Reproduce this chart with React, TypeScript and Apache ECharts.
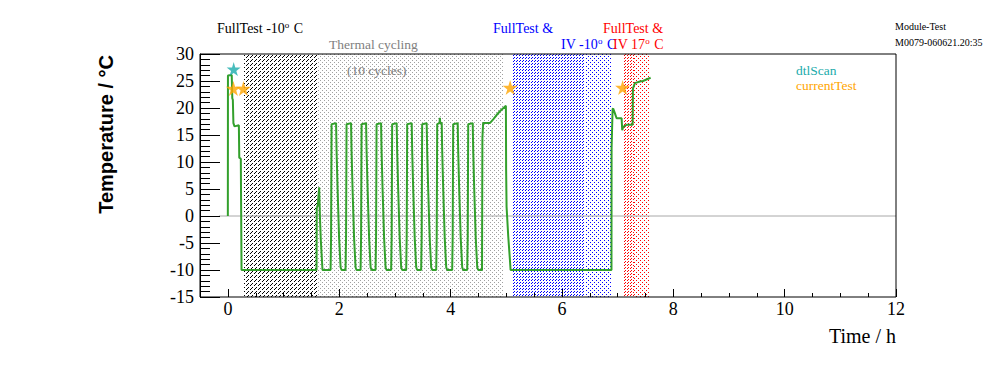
import React, { useEffect, useRef } from 'react';
import * as echarts from 'echarts';

// Temperature trace (Time / h, Temperature / °C)
const timeH = [
  0, 0.002, 0.07, 0.08, 0.09, 0.1, 0.12, 0.198, 0.205, 0.233, 0.238, 0.246,
  1.593, 1.597, 1.615, 1.64, 1.655, 1.67, 1.7,
  1.845, 1.854, 1.863, 1.944, 1.953, 1.971, 1.998, 2.025, 2.043,
  2.114, 2.123, 2.132, 2.213, 2.222, 2.24, 2.267, 2.294, 2.312,
  2.384, 2.393, 2.402, 2.483, 2.492, 2.51, 2.537, 2.564, 2.582,
  2.653, 2.662, 2.671, 2.752, 2.761, 2.779, 2.806, 2.833, 2.851,
  2.933, 2.942, 2.951, 3.032, 3.041, 3.059, 3.086, 3.113, 3.131,
  3.203, 3.212, 3.221, 3.302, 3.311, 3.329, 3.356, 3.383, 3.401,
  3.472, 3.481, 3.49, 3.571, 3.58, 3.598, 3.625, 3.652, 3.67,
  3.742, 3.751, 3.76, 3.802, 3.808, 3.815, 3.841, 3.85, 3.868, 3.895, 3.922, 3.94,
  4.029, 4.038, 4.047, 4.128, 4.137, 4.155, 4.182, 4.209, 4.227,
  4.299, 4.308, 4.317, 4.398, 4.407, 4.425, 4.452, 4.479, 4.497,
  4.565, 4.572, 4.585, 4.706, 4.766, 4.827, 4.886, 4.994, 4.998, 5.006, 5.036, 5.066, 5.078,
  6.89, 6.892, 6.91, 6.921, 6.952, 6.982, 7.072, 7.083, 7.1, 7.162, 7.27, 7.275, 7.311, 7.401, 7.455, 7.593,
];
const tempC = [
  0, 26, 26.1, 21.8, 21.5, 17.2, 16.6, 16.8, 10.8, 10.6, 2.6, -10,
  -10, 1.5, 2, 5.3, -0.5, -4.5, -10,
  -10, -4, 17, 17.2, 12, 5, -4, -9.5, -10,
  -10, -4, 17, 17.2, 12, 5, -4, -9.5, -10,
  -10, -4, 17, 17.2, 12, 5, -4, -9.5, -10,
  -10, -4, 17, 17.2, 12, 5, -4, -9.5, -10,
  -10, -4, 17, 17.2, 12, 5, -4, -9.5, -10,
  -10, -4, 17, 17.2, 12, 5, -4, -9.5, -10,
  -10, -4, 17, 17.2, 12, 5, -4, -9.5, -10,
  -10, -4, 17, 17.2, 18.2, 17.2, 17.2, 12, 5, -4, -9.5, -10,
  -10, -4, 17, 17.2, 12, 5, -4, -9.5, -10,
  -10, -4, 17, 17.2, 12, 5, -4, -9.5, -10,
  -10, 14.5, 17.2, 17.2, 17.9, 18.7, 19.4, 20.4, 8.5, 1.7, -3.8, -8.1, -10,
  -10, 12.6, 19.8, 19.9, 19.0, 18.1, 18.1, 15.9, 16.5, 16.9, 16.9, 23.6, 24.6, 24.9, 25.0, 25.6,
];

// Marker points
const dtlScanT = [0.105];
const dtlScanV = [27.2];
const currentTestT = [0.1, 0.28, 5.07, 7.09];
const currentTestV = [23.6, 23.6, 23.8, 23.8];

// Zero reference line
const zeroT = [-0.16, 12];
const zeroV = [0, 0];

// Shaded test phases (hours)
const regionStart = [0.295, 1.6, 5.12, 6.41, 7.11, 7.3];
const regionEnd = [1.6, 4.94, 6.41, 6.88, 7.3, 7.56];
const regionKind = ['blackHatch', 'grayDots', 'blueHatch', 'blueDots', 'redHatch', 'redDots'];

// Axis ranges
const xMin = -0.5;
const xMax = 12;
const yMin = -15;
const yMax = 30;

const SERIF = 'Liberation Serif';
const STAR = 'path://M50,0 L61,35 L98,35 L68,57 L79,91 L50,70 L21,91 L32,57 L2,35 L39,35 Z';

// Fill styles: period P, and for each pixel row (mod P) the column (mod P) of its dot
const FILLS: Record<string, { P: number; rows: (number | null)[]; color: string }> = {
  blackHatch: { P: 4, rows: [3, 2, null, 0], color: '#000000' },
  grayDots: { P: 4, rows: [0, null, 2, null], color: '#a0a0a0' },
  blueHatch: { P: 3, rows: [1, 0, null], color: '#0000ff' },
  blueDots: { P: 4, rows: [0, null, 2, null], color: '#0000ff' },
  redHatch: { P: 3, rows: [1, 0, null], color: '#ff0000' },
  redDots: { P: 4, rows: [0, null, 2, null], color: '#ff0000' },
};

function txt(x: number, y: number, text: string, size: number, color: string, extra: any = {}) {
  return {
    type: 'text',
    x,
    y,
    silent: true,
    z: 20,
    style: {
      text,
      fill: color,
      fontSize: size,
      fontFamily: SERIF,
      align: 'left',
      verticalAlign: 'middle',
      ...extra,
    },
  };
}

const supRich = {
  s: { fontSize: 9, fontFamily: SERIF, verticalAlign: 'bottom', padding: [0, 1, 7, 0] },
};

export default function App() {
  const ref = useRef<HTMLDivElement>(null);

  useEffect(() => {
    if (!ref.current) return;
    const chart = echarts.init(ref.current, undefined, { renderer: 'svg' });

    const option: any = {
      animation: false,
      grid: [
        { left: 200, top: 54, width: 696, height: 243, show: true, borderColor: '#000', borderWidth: 1, backgroundColor: 'transparent', z: 10 },
        { left: 228, top: 54, width: 668, height: 243 },
      ],
      xAxis: [
        { gridIndex: 0, type: 'value', min: xMin, max: xMax, show: false },
        {
          gridIndex: 1, type: 'value', min: 0, max: xMax, interval: 2, z: 10, position: 'bottom',
          axisLine: { show: false, onZero: false },
          axisTick: { inside: true, length: 8, lineStyle: { color: '#000' } },
          minorTick: { show: true, splitNumber: 4, length: 4, lineStyle: { color: '#000' } },
          splitLine: { show: false },
          minorSplitLine: { show: false },
          axisLabel: { fontFamily: SERIF, fontSize: 18, color: '#000', margin: 3 },
        },
      ],
      yAxis: [
        {
          gridIndex: 0, type: 'value', min: yMin, max: yMax, interval: 5, z: 10,
          axisLine: { show: true, onZero: false, lineStyle: { color: '#000' } },
          axisTick: { inside: true, length: 20, lineStyle: { color: '#000' } },
          minorTick: { show: true, splitNumber: 5, length: 10, lineStyle: { color: '#000' } },
          splitLine: { show: false },
          minorSplitLine: { show: false },
          axisLabel: { fontFamily: SERIF, fontSize: 18, color: '#000', margin: 6, padding: [5, 0, 0, 0] },
        },
        { gridIndex: 1, type: 'value', min: yMin, max: yMax, show: false },
      ],
      series: [
        {
          type: 'custom',
          xAxisIndex: 0,
          yAxisIndex: 0,
          silent: true,
          z: 1,
          data: regionStart.map((s, i) => [s, regionEnd[i], i]),
          renderItem: (_params: any, api: any) => {
            const fill = FILLS[regionKind[api.value(2)]];
            const P = fill.P;
            const p0 = api.coord([api.value(0), yMax]);
            const p1 = api.coord([api.value(1), yMin]);
            const xa = Math.round(p0[0]);
            const xb = Math.round(p1[0]);
            const ya = Math.round(p0[1]);
            const yb = Math.round(p1[1]);
            const children: any[] = [];
            for (let y = ya; y < yb; y++) {
              const col = fill.rows[((y % P) + P) % P];
              if (col == null) continue;
              const shift = (((col - xa) % P) + P) % P;
              children.push({
                type: 'line',
                shape: { x1: xa, y1: y + 0.5, x2: xb, y2: y + 0.5 },
                style: {
                  stroke: fill.color,
                  lineWidth: 1,
                  lineDash: [1, P - 1],
                  lineDashOffset: (P - shift) % P,
                },
              });
            }
            return { type: 'group', children };
          },
        },
        {
          type: 'line',
          xAxisIndex: 0,
          yAxisIndex: 0,
          z: 3,
          silent: true,
          symbol: 'none',
          data: zeroT.map((t, i) => [t, zeroV[i]]),
          lineStyle: { color: '#a8a8a8', width: 1 },
        },
        {
          type: 'line',
          xAxisIndex: 0,
          yAxisIndex: 0,
          z: 4,
          silent: true,
          symbol: 'none',
          data: timeH.map((t, i) => [t, tempC[i]]),
          lineStyle: { color: '#33a02c', width: 2 },
        },
        {
          type: 'scatter',
          xAxisIndex: 0,
          yAxisIndex: 0,
          z: 12,
          symbol: STAR,
          symbolSize: 15,
          data: currentTestT.map((t, i) => [t, currentTestV[i]]),
          itemStyle: { color: '#ffa500' },
        },
        {
          type: 'scatter',
          xAxisIndex: 0,
          yAxisIndex: 0,
          z: 13,
          symbol: STAR,
          symbolSize: 14,
          data: dtlScanT.map((t, i) => [t, dtlScanV[i]]),
          itemStyle: { color: '#1aabab' },
        },
      ],
      graphic: [
        txt(217, 28, 'FullTest -10{s|o} C', 14, '#000', { rich: supRich }),
        txt(329, 44, 'Thermal cycling', 13.5, '#808080'),
        txt(347, 70, '(10 cycles)', 13.5, '#808080'),
        txt(493, 28, 'FullTest &', 14, '#0000ff'),
        txt(561, 44, 'IV -10{s|o} C', 14, '#0000ff', { rich: supRich }),
        txt(603, 28, 'FullTest &', 14, '#ff0000'),
        txt(613, 44, 'IV 17{s|o} C', 14, '#ff0000', { rich: supRich }),
        txt(895, 26, 'Module-Test', 10, '#000'),
        txt(895, 42, 'M0079-060621.20:35', 10, '#000'),
        txt(796, 70, 'dtlScan', 13.5, '#1aabab'),
        txt(796, 85, 'currentTest', 13.5, '#ffa500'),
        txt(896, 336, 'Time / h', 20, '#000', { align: 'right' }),
        {
          type: 'text',
          x: 106,
          y: 55,
          rotation: Math.PI / 2,
          silent: true,
          style: {
            text: 'Temperature / °C',
            fill: '#000',
            fontSize: 20,
            fontWeight: 'bold',
            fontFamily: 'Liberation Sans',
            align: 'right',
            verticalAlign: 'middle',
          },
        },
      ],
    };

    chart.setOption(option);
    return () => chart.dispose();
  }, []);

  return (
    <div
      ref={ref}
      style={{ position: 'fixed', left: 0, top: 0, width: 996, height: 372, background: '#fff' }}
    />
  );
}
